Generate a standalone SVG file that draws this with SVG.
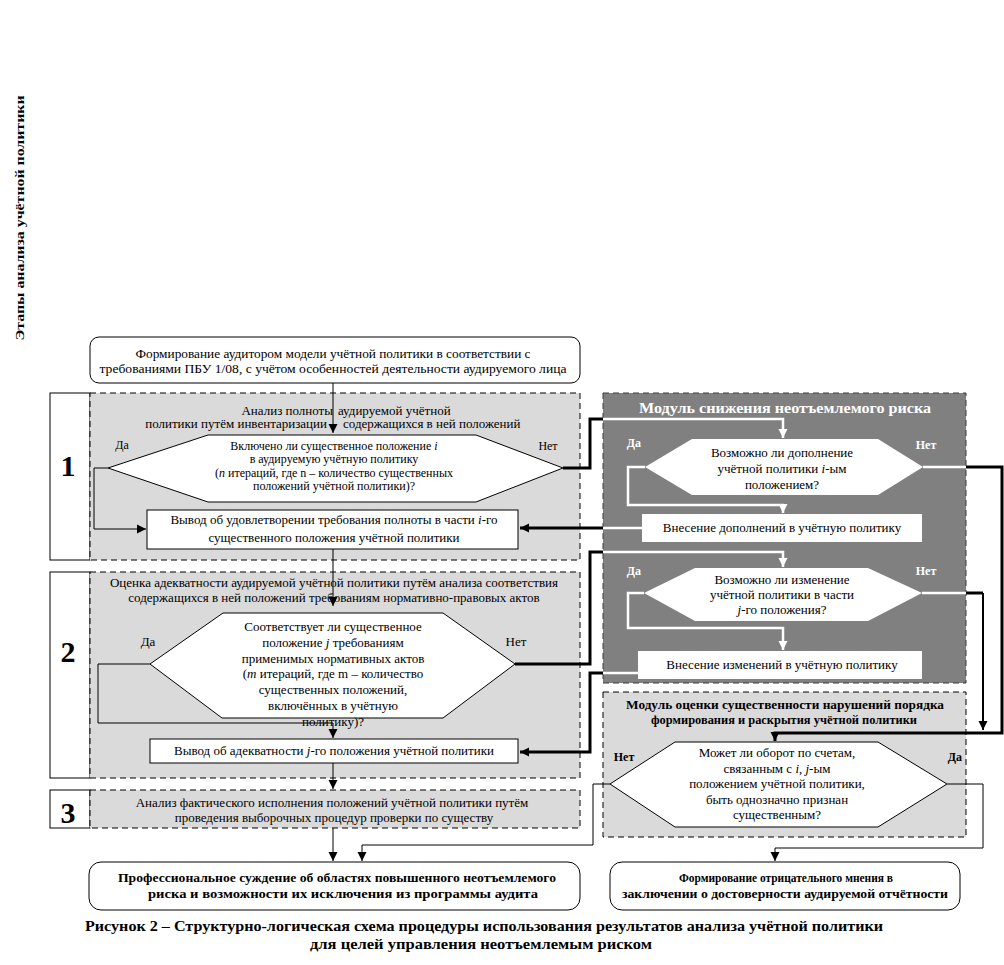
<svg xmlns="http://www.w3.org/2000/svg" width="1004" height="965" viewBox="0 0 1004 965">
<style>
text{font-family:"Liberation Serif","Times New Roman",serif;font-size:13px;fill:#000;text-anchor:middle}
.s12{font-size:12px}
.b{font-weight:bold}
.w{fill:#fff}
.num{font-size:30px;font-weight:bold}
.box{fill:#fff;stroke:#000;stroke-width:1}
.nb{fill:#fff;stroke:none}
.stage{fill:#dadada;stroke:#000;stroke-width:1;stroke-dasharray:6,4}
.dark{fill:#808080;stroke:#3a3a3a;stroke-width:1;stroke-dasharray:6,4}
.ln{fill:none;stroke:#000;stroke-width:1}
.thk{fill:none;stroke:#000;stroke-width:3}
.wl{fill:none;stroke:#fff;stroke-width:2.5}
</style>
<defs>
<marker id="ab" markerUnits="userSpaceOnUse" markerWidth="10" markerHeight="10" refX="9" refY="5" orient="auto"><path d="M0,0.5 L9,5 L0,9.5 z" fill="#000"/></marker>
<marker id="aw" markerUnits="userSpaceOnUse" markerWidth="10" markerHeight="10" refX="9" refY="5" orient="auto"><path d="M0,0.5 L9,5 L0,9.5 z" fill="#fff"/></marker>
</defs>
<rect width="1004" height="965" fill="#fff"/>

<g id="axis-label">
<text class="b" transform="translate(24,218) rotate(-90)" textLength="245" lengthAdjust="spacingAndGlyphs">Этапы анализа учётной политики</text>
</g>

<g id="stage-1">
<rect class="box" x="50" y="393" width="40" height="167"/>
<text class="num" x="68" y="476">1</text>
<rect class="stage" x="90" y="393" width="490" height="167"/>
<text x="333" y="415" style="text-anchor:end">Анализ полноты</text>
<text x="338" y="415" style="text-anchor:start">аудируемой учётной</text>
<text x="327" y="428" style="text-anchor:end">политики путём инвентаризации</text>
<text x="343" y="428" style="text-anchor:start">содержащихся в ней положений</text>
</g>
<g id="stage-2">
<rect class="box" x="50" y="572" width="40" height="206"/>
<text class="num" x="68" y="662">2</text>
<rect class="stage" x="90" y="572" width="490" height="206"/>
<text x="334" y="587">Оценка адекватности аудируемой учётной политики путём анализа соответствия</text>
<text x="334" y="602">содержащихся в ней положений требованиям нормативно-правовых актов</text>
</g>
<g id="stage-3">
<rect class="box" x="50" y="790" width="40" height="38"/>
<text class="num" x="68" y="823">3</text>
<rect class="stage" x="90" y="790" width="490" height="38"/>
<text x="332" y="807">Анализ фактического исполнения положений учётной политики путём</text>
<text x="334" y="822">проведения выборочных процедур проверки по существу</text>
</g>

<g id="module-reduce">
<rect class="dark" x="603" y="393" width="363" height="290"/>
<text class="b w" x="785" y="413" style="font-size:14px" textLength="292" lengthAdjust="spacingAndGlyphs">Модуль снижения неотъемлемого риска</text>
</g>
<g id="module-materiality">
<rect class="stage" x="603" y="692" width="363" height="145"/>
<text class="b" x="785" y="709" textLength="318" lengthAdjust="spacingAndGlyphs">Модуль оценки существенности нарушений порядка</text>
<text class="b" x="784" y="724" textLength="266" lengthAdjust="spacingAndGlyphs">формирования и раскрытия учётной политики</text>
</g>

<g id="connectors">
<path class="ln" d="M333,383 V433" marker-end="url(#ab)"/>
<path class="ln" d="M108,468 H94 V529 H146" marker-end="url(#ab)"/>
<path class="thk" d="M563,468 H590 V419 H603"/>
<path class="wl" d="M603,419 H783 V438" marker-end="url(#aw)"/>
<path class="wl" d="M645,467 H628 V505 H783 V513" marker-end="url(#aw)"/>
<path class="wl" d="M642,528 H603"/>
<path class="thk" d="M603,528 H520" marker-end="url(#ab)"/>
<path class="ln" d="M333,549 V606" marker-end="url(#ab)"/>
<path class="thk" d="M515,664 H590 V552 H603"/>
<path class="wl" d="M603,552 H783 V567" marker-end="url(#aw)"/>
<path class="wl" d="M644,593 H628 V628 H783 V650" marker-end="url(#aw)"/>
<path class="wl" d="M638,673 H603"/>
<path class="thk" d="M603,673 H590 V752 H520" marker-end="url(#ab)"/>
<path class="ln" d="M150,664 H98 V723 H333 V738" marker-end="url(#ab)"/>
<path class="ln" d="M333,763 V789" marker-end="url(#ab)"/>
<path class="ln" d="M333,828 V861" marker-end="url(#ab)"/>
<path class="wl" d="M923,467 H966"/>
<path class="thk" d="M966,467 H1002 V733 H775 V741" marker-end="url(#ab)"/>
<path class="wl" d="M922,593 H966"/>
<path class="thk" d="M966,593 H983"/>
<path class="ln" style="stroke-width:2" d="M983,593 V730" marker-end="url(#ab)"/>
<path class="ln" d="M610,784 H593 V845 H362 V861" marker-end="url(#ab)"/>
<path class="ln" d="M947,784 H983 V848 H775 V861" marker-end="url(#ab)"/>
</g>

<g id="node-model">
<rect class="box" x="90" y="337" width="490" height="46" rx="9"/>
<text x="333" y="358" textLength="395" lengthAdjust="spacingAndGlyphs">Формирование аудитором модели учётной политики в соответствии с</text>
<text x="333" y="373" textLength="467" lengthAdjust="spacingAndGlyphs">требованиями ПБУ 1/08, с учётом особенностей деятельности аудируемого лица</text>
</g>

<g id="node-q1">
<polygon class="box" points="108,468 208,435 476,435 563,468 476,502 208,502"/>
<text class="s12" x="334" y="450">Включено ли существенное положение <tspan font-style="italic">i</tspan></text>
<text class="s12" x="334" y="463">в аудируемую учётную политику</text>
<text class="s12" x="334" y="477">(<tspan font-style="italic">n</tspan> итераций, где n – количество существенных</text>
<text class="s12" x="334" y="490">положений учётной политики)?</text>
<text class="s12" x="122" y="449">Да</text>
<text class="s12" x="548" y="450">Нет</text>
</g>

<g id="node-c1">
<rect class="box" x="147" y="510" width="371" height="39"/>
<text x="334" y="524">Вывод об удовлетворении требования полноты в части <tspan font-style="italic">i</tspan>-го</text>
<text x="334" y="542">существенного положения учётной политики</text>
</g>

<g id="node-q2">
<polygon class="box" points="150,664 223,613 443,613 515,664 443,718 222,718"/>
<text x="333" y="631">Соответствует ли существенное</text>
<text x="333" y="647">положение <tspan font-style="italic">j</tspan> требованиям</text>
<text x="333" y="663">применимых нормативных актов</text>
<text x="333" y="678">(<tspan font-style="italic">m</tspan> итераций, где m – количество</text>
<text x="333" y="694">существенных положений,</text>
<text x="333" y="710">включённых в учётную</text>
<text x="333" y="726">политику)?</text>
<text x="148" y="646">Да</text>
<text x="516" y="646">Нет</text>
</g>

<g id="node-c2">
<rect class="box" x="150" y="739" width="368" height="24"/>
<text x="334" y="755">Вывод об адекватности <tspan font-style="italic">j</tspan>-го положения учётной политики</text>
</g>

<g id="node-qa">
<polygon class="nb" points="645,467 692,439 878,439 923,467 878,495 692,495"/>
<text x="782" y="457">Возможно ли дополнение</text>
<text x="782" y="473">учётной политики <tspan font-style="italic">i</tspan>-ым</text>
<text x="782" y="489">положением?</text>
<text class="b w s12" x="634" y="447">Да</text>
<text class="b w s12" x="926" y="449">Нет</text>
</g>
<g id="node-ba">
<rect class="nb" x="642" y="514" width="280" height="28"/>
<text x="782" y="532">Внесение дополнений в учётную политику</text>
</g>

<g id="node-qb">
<polygon class="nb" points="644,593 695,568 868,568 922,593 868,621 695,621"/>
<text x="782" y="584">Возможно ли изменение</text>
<text x="782" y="599">учётной политики в части</text>
<text x="782" y="614"><tspan font-style="italic">j</tspan>-го положения?</text>
<text class="b w s12" x="634" y="575">Да</text>
<text class="b w s12" x="926" y="575">Нет</text>
</g>
<g id="node-bb">
<rect class="nb" x="638" y="651" width="284" height="28"/>
<text x="782" y="669">Внесение изменений в учётную политику</text>
</g>

<g id="node-qc">
<polygon class="box" points="610,784 675,742 878,742 947,784 878,827 675,827"/>
<text x="777" y="757">Может ли оборот по счетам,</text>
<text x="777" y="773">связанным с <tspan font-style="italic">i, j</tspan>-ым</text>
<text x="777" y="788">положением учётной политики,</text>
<text x="777" y="804">быть однозначно признан</text>
<text x="777" y="819">существенным?</text>
<text class="b s12" x="624" y="761">Нет</text>
<text class="b s12" x="955" y="761">Да</text>
</g>

<g id="node-judgement">
<rect class="box" x="89" y="862" width="491" height="48" rx="12"/>
<text class="b" x="337" y="882" textLength="438" lengthAdjust="spacingAndGlyphs">Профессиональное суждение об областях повышенного неотъемлемого</text>
<text class="b" x="343" y="898" textLength="390" lengthAdjust="spacingAndGlyphs">риска и возможности их исключения из программы аудита</text>
</g>
<g id="node-opinion">
<rect class="box" x="610" y="862" width="350" height="48" rx="12"/>
<text class="b" x="786" y="882" textLength="214" lengthAdjust="spacingAndGlyphs">Формирование отрицательного мнения в</text>
<text class="b" x="785" y="898" textLength="326" lengthAdjust="spacingAndGlyphs">заключении о достоверности аудируемой отчётности</text>
</g>

<g id="caption">
<text class="b" x="484" y="931" style="font-size:14px" textLength="798" lengthAdjust="spacingAndGlyphs">Рисунок 2 – Структурно-логическая схема процедуры использования результатов анализа учётной политики</text>
<text class="b" x="481" y="949" style="font-size:14px" textLength="342" lengthAdjust="spacingAndGlyphs">для целей управления неотъемлемым риском</text>
</g>
</svg>
